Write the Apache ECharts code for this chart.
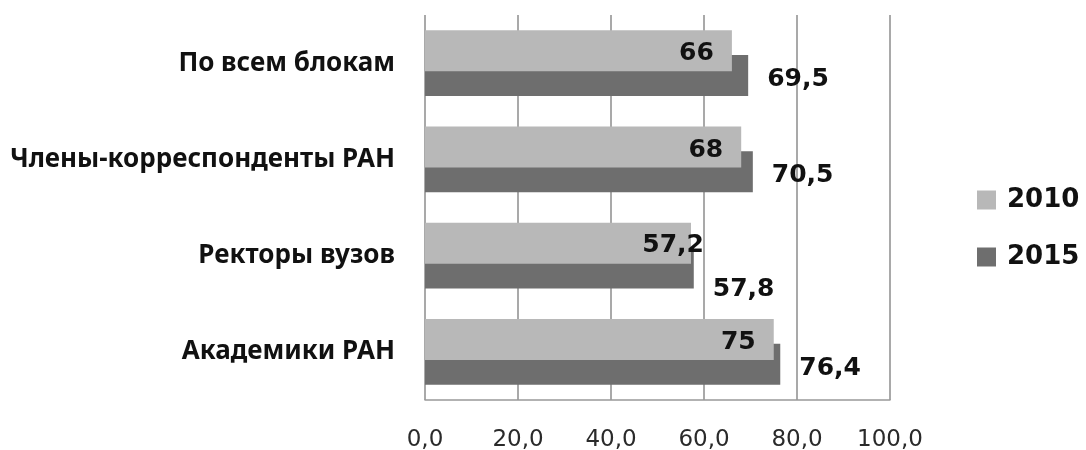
<!DOCTYPE html>
<html><head><meta charset="utf-8">
<script src="https://cdn.jsdelivr.net/npm/echarts@6/dist/echarts.min.js"></script>
<style>html,body{margin:0;padding:0;background:#fff}#c{width:1086px;height:450px}</style>
</head><body><div id="c"></div>
<script>
const categories = ['Академики РАН', 'Ректоры вузов', 'Члены-корреспонденты РАН', 'По всем блокам'];
const values2010 = [75, 57.2, 68, 66];
const values2015 = [76.4, 57.8, 70.5, 69.5];
const seriesNames = ['2010', '2015'];
const xTicks = [0, 20, 40, 60, 80, 100];

const fmt = v => String(v).replace('.', ',');
const catFont = '"Noto Sans", sans-serif';
const numFont = '"DejaVu Sans", sans-serif';

const chart = echarts.init(document.getElementById('c'), null, {renderer: 'canvas'});
chart.setOption({
  animation: false,
  backgroundColor: '#fff',
  grid: {left: 425, right: 196, top: 15, bottom: 50, containLabel: false, outerBoundsMode: 'none'},
  legend: {
    orient: 'vertical', left: 977, top: 187, padding: 0,
    data: seriesNames,
    itemWidth: 19, itemHeight: 19, itemGap: 31,
    icon: 'rect',
    textStyle: {fontFamily: numFont, fontWeight: 'bold', fontSize: 26, lineHeight: 26, color: '#111', padding: [0,0,0,6]}
  },
  xAxis: {
    type: 'value', min: xTicks[0], max: xTicks[xTicks.length-1], interval: 20,
    axisLine: {show: true, lineStyle: {color: '#999', width: 1.5}},
    axisTick: {show: false},
    splitLine: {show: true, lineStyle: {color: '#8c8c8c', width: 1.5}},
    axisLabel: {formatter: v => v.toFixed(1).replace('.', ','), fontFamily: numFont, fontSize: 23, color: '#2a2a2a', margin: 29}
  },
  yAxis: {
    type: 'category', data: categories,
    axisLine: {show: false}, axisTick: {show: false},
    axisLabel: {fontFamily: catFont, fontWeight: 'bold', fontSize: 26, color: '#111', margin: 30}
  },
  series: [
    {
      name: '2010', type: 'bar', barWidth: 41, barGap: '-40%', z: 3,
      itemStyle: {color: '#b8b8b8'},
      data: values2010.map((v, i) => ({value: v, label: i === 1 ? {offset: [31, 2]} : {offset: [0, 3]}})),
      label: {show: true, position: 'insideRight', distance: 18, formatter: p => fmt(p.value),
        fontFamily: numFont, fontWeight: 'bold', fontSize: 25, color: '#111'}
    },
    {
      name: '2015', type: 'bar', barWidth: 41, barGap: '-40%', z: 2,
      itemStyle: {color: '#6e6e6e'},
      data: values2015.map((v, i) => ({value: v, label: i === 1 ? {offset: [0, 22]} : {offset: [0, 4]}})),
      label: {show: true, position: 'right', distance: 19, formatter: p => fmt(p.value),
        fontFamily: numFont, fontWeight: 'bold', fontSize: 25, color: '#111'}
    }
  ]
});
</script></body></html>
